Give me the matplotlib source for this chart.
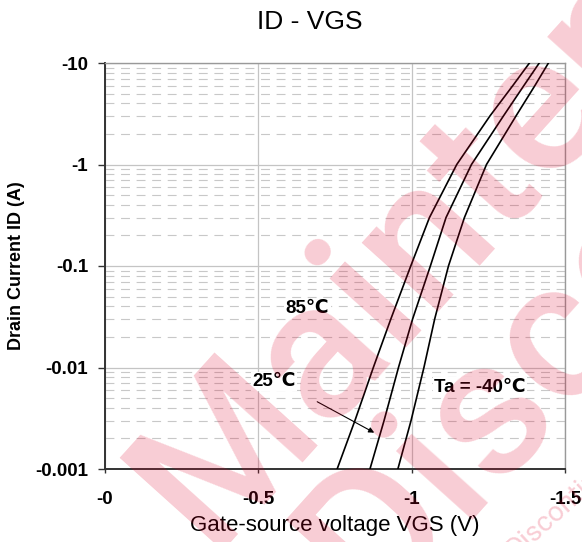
import matplotlib
matplotlib.use("Agg")
import matplotlib.pyplot as plt
from matplotlib.ticker import FixedLocator, FixedFormatter, LogLocator, NullFormatter

# ---------------- data ----------------
drain_current = [0.001, 0.003, 0.01, 0.03, 0.1, 0.3, 1, 3, 6, 10]          # |ID| (A)
vgs_85C  = [0.757, 0.815, 0.875, 0.932, 0.997, 1.058, 1.147, 1.255, 1.330, 1.384]  # |VGS| (V)
vgs_25C  = [0.864, 0.910, 0.957, 1.003, 1.061, 1.112, 1.195, 1.299, 1.366, 1.416]
vgs_m40C = [0.955, 0.998, 1.040, 1.075, 1.120, 1.172, 1.244, 1.340, 1.402, 1.446]

x_ticks = [0, 0.5, 1.0, 1.5]
x_tick_labels = ['-0', '-0.5', '-1', '-1.5']
y_ticks = [0.001, 0.01, 0.1, 1, 10]
y_tick_labels = ['-0.001', '-0.01', '-0.1', '-1', '-10']

title = 'ID - VGS'
x_label = 'Gate-source voltage VGS (V)'
y_label = 'Drain Current ID (A)'
curve_labels = ['85\u2103', '25\u2103', 'Ta = -40\u2103']
label_pos = [(0.660, 0.038), (0.551, 0.0073), (1.223, 0.0064)]
arrow_from = (0.692, 0.0046)
arrow_to = (0.878, 0.00228)

# ---------------- figure ----------------
FAM = ['Liberation Sans', 'DejaVu Sans']
plt.rcParams['font.family'] = FAM
W, H = 582, 542
fig = plt.figure(figsize=(W / 100, H / 100), dpi=100)
ax = fig.add_axes([105 / W, 1 - 469 / H, 460 / W, 406 / H])

ax.set_yscale('log')
ax.set_xlim(0, 1.5)
ax.set_ylim(0.001, 10)

# grid
ax.yaxis.set_minor_locator(LogLocator(base=10, subs=range(2, 10)))
ax.yaxis.set_minor_formatter(NullFormatter())
ax.grid(which='minor', axis='y', color='#c8c8c8', lw=0.8, linestyle=(0, (8, 6)))
ax.grid(which='major', axis='both', color='#c4c4c4', lw=0.9, linestyle='-')
ax.set_axisbelow(True)

for v in [vgs_85C, vgs_25C, vgs_m40C]:
    ax.plot(v, drain_current, color='black', lw=1.2, zorder=3)

ax.xaxis.set_major_locator(FixedLocator(x_ticks))
ax.xaxis.set_major_formatter(FixedFormatter(x_tick_labels))
ax.yaxis.set_major_locator(FixedLocator(y_ticks))
ax.yaxis.set_major_formatter(FixedFormatter(y_tick_labels))
ax.tick_params(axis='y', which='major', length=5, width=1, color='#333333', pad=7,
               labelsize=13.5)
ax.tick_params(axis='x', which='major', length=3, width=1, color='#333333', pad=13,
               labelsize=13.5)
ax.tick_params(which='minor', length=0)
for t in ax.get_xticklabels() + ax.get_yticklabels():
    t.set_fontweight('bold')

for s in ['left', 'bottom']:
    ax.spines[s].set_color('#333333')
    ax.spines[s].set_linewidth(1.4)
for s in ['top', 'right']:
    ax.spines[s].set_color('#999999')
    ax.spines[s].set_linewidth(1.0)

# curve labels
for (x, y), txt in zip(label_pos, curve_labels):
    ax.text(x, y, txt, ha='center', va='center', fontsize=13.5, fontweight='bold',
            family=FAM, zorder=4,
            bbox=dict(facecolor='white', edgecolor='none', pad=1.0))
ax.annotate('', xy=arrow_to, xytext=arrow_from,
            arrowprops=dict(arrowstyle='-|>', color='black', lw=0.8,
                            mutation_scale=8, shrinkA=0, shrinkB=0), zorder=4)

# titles
fig.text(310 / W, 1 - 22 / H, title, ha='center', va='center', fontsize=19)
fig.text(335 / W, 1 - 525 / H, x_label, ha='center', va='center', fontsize=16)
fig.text(17 / W, 1 - 266 / H, y_label, ha='center', va='center', fontsize=13,
         fontweight='bold', rotation=90)

# watermark
WMF = ['Roboto', 'Liberation Sans']
wm = dict(color='#E00029', alpha=0.2, rotation=48, rotation_mode='anchor',
          ha='left', va='baseline', fontsize=140, fontweight='medium',
          family=WMF, zorder=10)
fig.text(209 / W, 1 - 551 / H, 'Maintenance', **wm)
fig.text(375 / W, 1 - 613 / H, 'Discontinued', **wm)
fig.text(516 / W, 1 - 558 / H, 'Discontinued', color='#E00029', alpha=0.2,
         rotation=42, rotation_mode='anchor', ha='left', va='baseline',
         fontsize=20, family=WMF, zorder=10)

fig.savefig('out.png', dpi=100)
